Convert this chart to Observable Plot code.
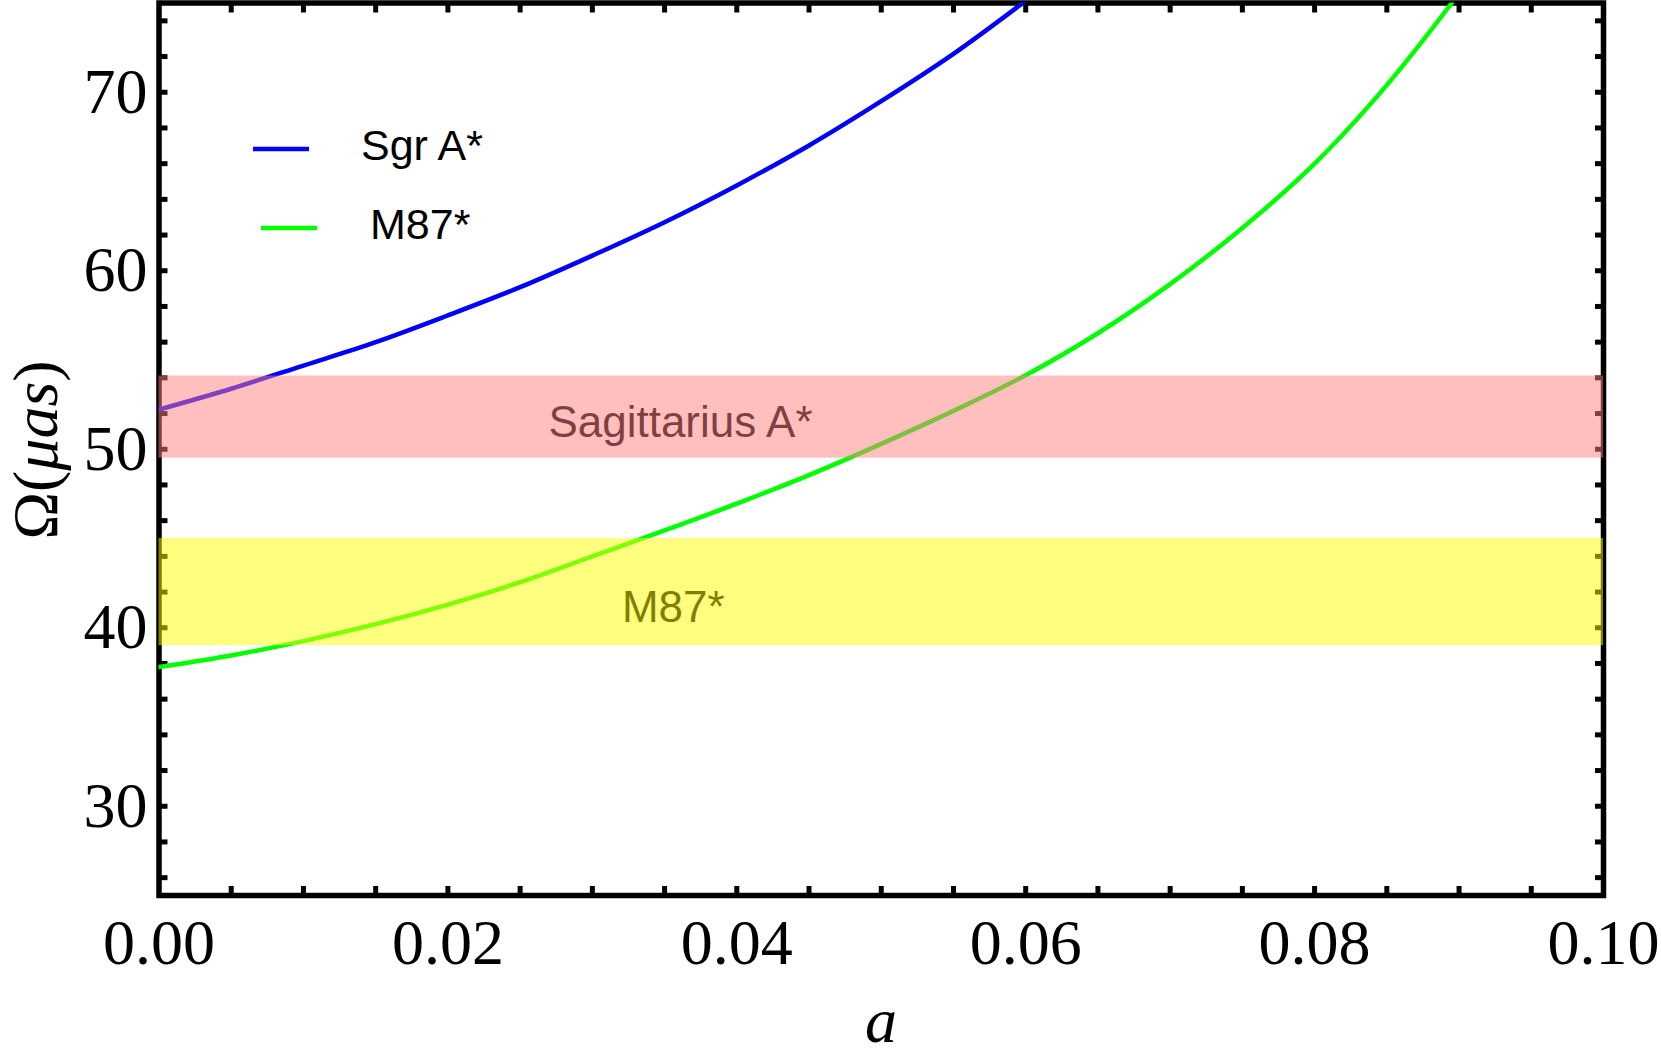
<!DOCTYPE html>
<html>
<head>
<meta charset="utf-8">
<script src="https://cdn.jsdelivr.net/npm/d3@7"></script>
<script src="https://cdn.jsdelivr.net/npm/@observablehq/plot@0.6"></script>
<style>
  html, body { margin: 0; padding: 0; background: white; }
  #chart { position: relative; width: 1661px; height: 1057px; }
</style>
</head>
<body>
<div id="chart"></div>
<script>
// ---- data ----
const xDomain = [0, 0.1];
const yDomain = [25, 75];
const xTickLabels = [0.00, 0.02, 0.04, 0.06, 0.08, 0.10];
const yTickLabels = [30, 40, 50, 60, 70];
const xMinorTicks = d3.range(1, 20).map(i => +(i * 0.005).toFixed(3));
const yMinorTicks = d3.range(26, 75, 2);

const sgrA_a     = [0, 0.005, 0.01, 0.015, 0.02, 0.025, 0.03, 0.035, 0.04, 0.045, 0.05, 0.055, 0.0598];
const sgrA_omega = [52.22, 53.39, 54.69, 56.0, 57.5, 59.08, 60.85, 62.72, 64.78, 67.02, 69.5, 72.15, 75];

const m87_a     = [0, 0.005, 0.01, 0.015, 0.02, 0.025, 0.03, 0.035, 0.04, 0.045, 0.05, 0.055, 0.06, 0.065, 0.07, 0.075, 0.08, 0.085, 0.0895];
const m87_omega = [37.8, 38.45, 39.25, 40.2, 41.3, 42.55, 44.0, 45.45, 46.95, 48.55, 50.3, 52.15, 54.15, 56.5, 59.25, 62.4, 66.0, 70.4, 75];

const bandNames = ["Sagittarius A*", "M87*"];
const bandLow   = [49.5, 39.0];
const bandHigh  = [54.1, 45.0];
const bandLabelA     = [0.0361, 0.0356];
const bandLabelOmega = [51.45, 41.12];

const seriesNames = ["Sgr A*", "M87*"];

// ---- build tables ----
const sgrData = sgrA_a.map((a, i) => ({a, omega: sgrA_omega[i]}));
const m87Data = m87_a.map((a, i) => ({a, omega: m87_omega[i]}));
const bands = bandNames.map((name, i) => ({name, lo: bandLow[i], hi: bandHigh[i], la: bandLabelA[i], lo2: bandLabelOmega[i]}));
const bandFill = {"Sagittarius A*": "rgb(255,127,127)", "M87*": "rgb(255,255,0)"};
const seriesColor = {"Sgr A*": "#0000ff", "M87*": "#00ff00"};

const serif = "'Liberation Serif', 'Times New Roman', serif";
const sans = "'Liberation Sans', Arial, sans-serif";

const tickStyle = {tickSize: -9, strokeWidth: 5, fill: "none", label: null};

const chart = Plot.plot({
  width: 1661,
  height: 1057,
  marginLeft: 158.5,
  marginRight: 58,
  marginTop: 2.5,
  marginBottom: 162,
  style: {background: "white", fontFamily: serif, color: "black"},
  x: {domain: xDomain},
  y: {domain: yDomain},
  marks: [
    Plot.frame({stroke: "black", strokeWidth: 5.5}),
    Plot.axisX(xMinorTicks, {anchor: "bottom", ...tickStyle}),
    Plot.axisX(xMinorTicks, {anchor: "top", ...tickStyle}),
    Plot.axisY(yMinorTicks, {anchor: "left", ...tickStyle}),
    Plot.axisY(yMinorTicks, {anchor: "right", ...tickStyle}),
    Plot.axisX(xTickLabels, {anchor: "bottom", tickSize: 0, tickPadding: 23, fontSize: 64, fontFamily: serif,
      tickFormat: d3.format(".2f"), label: null}),
    Plot.axisY(yTickLabels, {anchor: "left", tickSize: 0, tickPadding: 11.5, fontSize: 64, fontFamily: serif,
      tickFormat: d3.format("d"), label: null}),
    Plot.line(sgrData, {x: "a", y: "omega", stroke: seriesColor["Sgr A*"], strokeWidth: 4.5, curve: "catmull-rom", clip: true}),
    Plot.line(m87Data, {x: "a", y: "omega", stroke: seriesColor["M87*"], strokeWidth: 4.5, curve: "catmull-rom", clip: true}),
    Plot.text(bands, {x: "la", y: "lo2", text: "name", fill: "black", fontSize: 44, fontFamily: sans,
      textAnchor: "middle", lineAnchor: "middle"}),
    Plot.rect(bands, {x1: () => xDomain[0], x2: () => xDomain[1], y1: "lo", y2: "hi",
      fill: d => bandFill[d.name], fillOpacity: 0.5})
  ]
});

document.getElementById("chart").appendChild(chart);

// ---- legend and axis titles (added to the SVG) ----
const svg = d3.select(chart);
const legendRows = [
  {name: seriesNames[0], x1: 253, x2: 309, ly: 149, tx: 361, ty: 159.5},
  {name: seriesNames[1], x1: 261, x2: 317, ly: 228, tx: 370, ty: 238.5}
];
const lg = svg.append("g").attr("class", "legend");
legendRows.forEach(r => {
  lg.append("line").attr("x1", r.x1).attr("x2", r.x2).attr("y1", r.ly).attr("y2", r.ly)
    .attr("stroke", seriesColor[r.name]).attr("stroke-width", 4.5);
  lg.append("text").attr("x", r.tx).attr("y", r.ty).attr("font-family", sans).attr("font-size", 43)
    .attr("text-anchor", "start").attr("fill", "black").text(r.name);
});

// y-axis title Ω(μas)
const yt = svg.append("text")
  .attr("transform", "translate(57,450) rotate(-90)")
  .attr("text-anchor", "middle")
  .attr("font-family", serif)
  .attr("font-size", 64)
  .attr("fill", "black");
yt.append("tspan").text("Ω(");
yt.append("tspan").attr("font-style", "italic").text("μas");
yt.append("tspan").text(")");

// x-axis title a
svg.append("text")
  .attr("x", 881).attr("y", 1042)
  .attr("text-anchor", "middle")
  .attr("font-family", serif)
  .attr("font-size", 64)
  .attr("font-style", "italic")
  .attr("fill", "black")
  .text("a");
</script>
</body>
</html>
